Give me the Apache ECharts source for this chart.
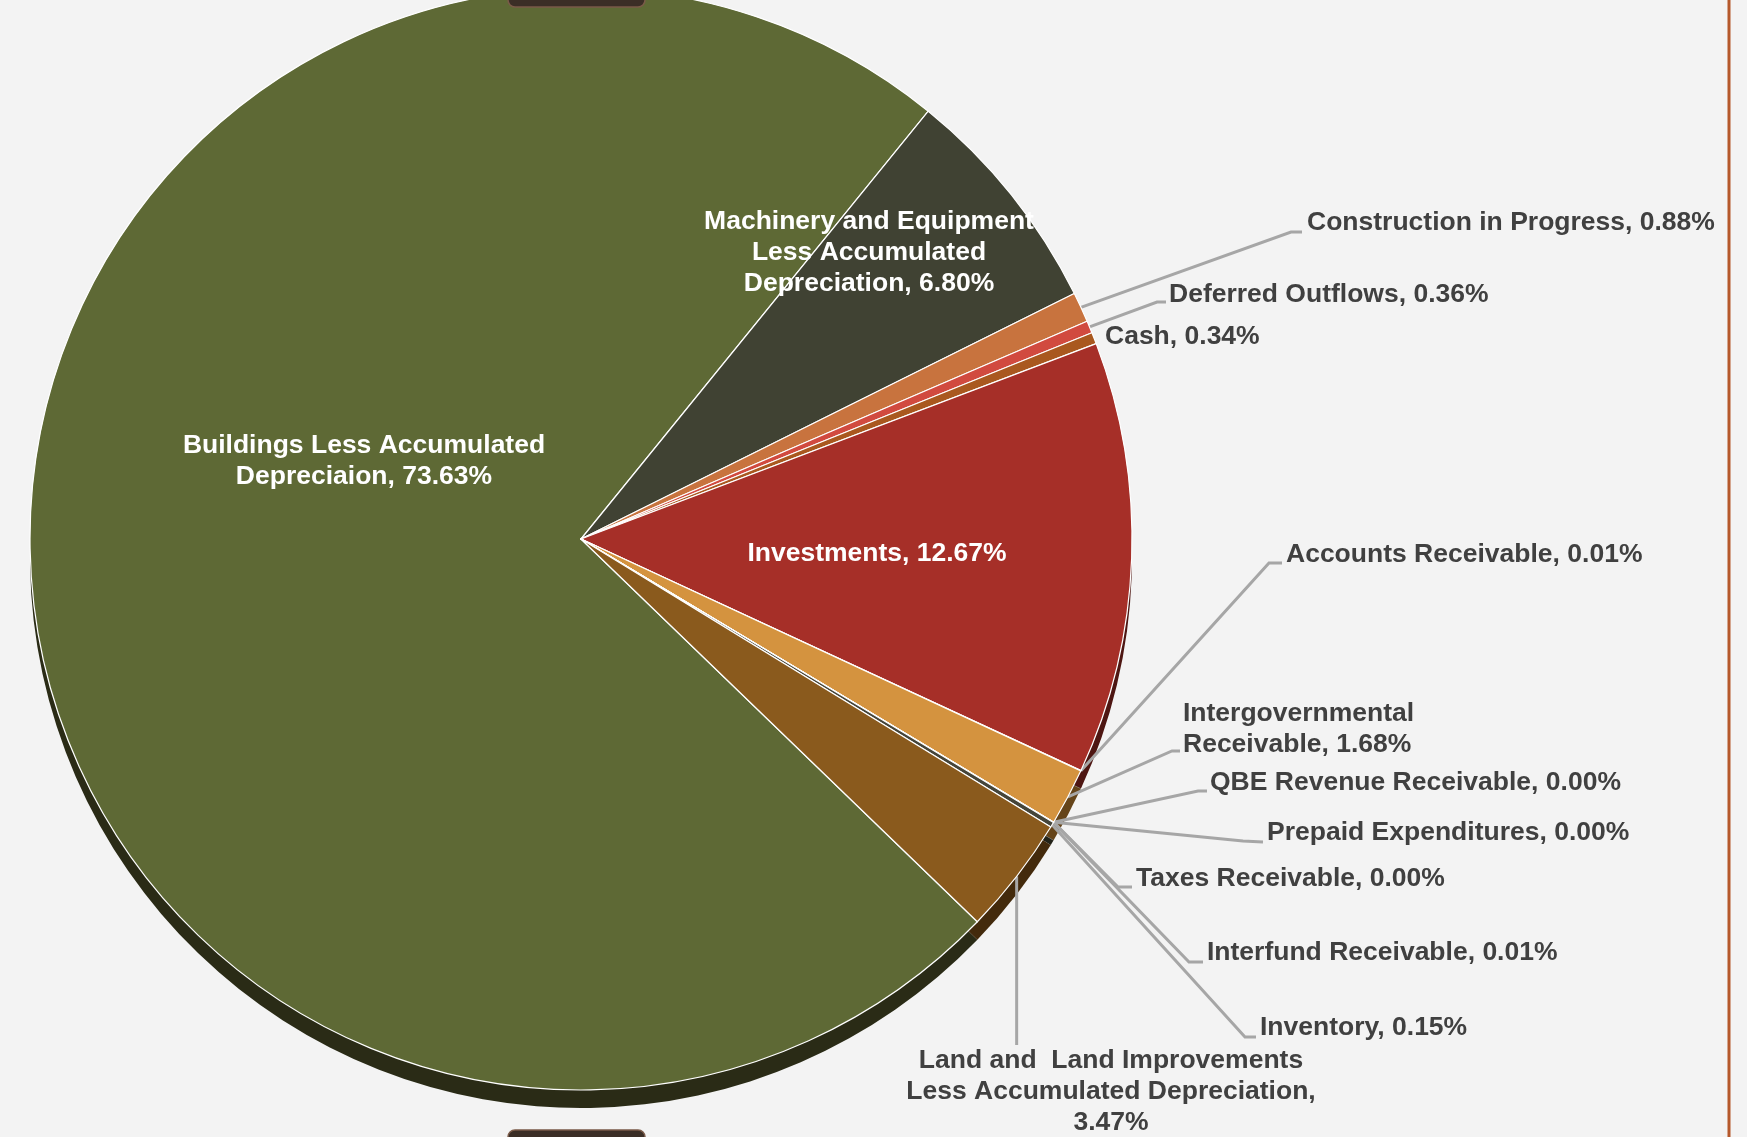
<!DOCTYPE html>
<html>
<head>
<meta charset="utf-8">
<title>Assets by Category</title>
<script src="https://cdn.jsdelivr.net/npm/echarts@6/dist/echarts.min.js"></script>
<style>
  html, body { margin: 0; padding: 0; background: #f3f3f3; }
  #chart { width: 1747px; height: 1137px; }
</style>
</head>
<body>
<div id="chart"></div>
<script>
// Asset categories, listed clockwise starting with the largest slice
const categories = [
  'Buildings Less Accumulated Depreciaion',
  'Machinery and Equipment Less Accumulated Depreciation',
  'Construction in Progress',
  'Deferred Outflows',
  'Cash',
  'Investments',
  'Accounts Receivable',
  'Intergovernmental Receivable',
  'QBE Revenue Receivable',
  'Prepaid Expenditures',
  'Taxes Receivable',
  'Interfund Receivable',
  'Inventory',
  'Land and  Land Improvements Less Accumulated Depreciation'
];

// Share of total, in percent
const shares = [73.63, 6.80, 0.88, 0.36, 0.34, 12.67, 0.01, 1.68, 0.00, 0.00, 0.00, 0.01, 0.15, 3.47];

// Label text ('#' is replaced with the formatted share)
const labelTemplates = [
  'Buildings Less Accumulated\nDepreciaion, #',
  'Machinery and Equipment\nLess Accumulated\nDepreciation, #',
  'Construction in Progress, #',
  'Deferred Outflows, #',
  'Cash, #',
  'Investments, #',
  'Accounts Receivable, #',
  'Intergovernmental\nReceivable, #',
  'QBE Revenue Receivable, #',
  'Prepaid Expenditures, #',
  'Taxes Receivable, #',
  'Interfund Receivable, #',
  'Inventory, #',
  'Land and  Land Improvements\nLess Accumulated Depreciation,\n#'
];

// Slice fills and the darker tone used for the pie's edge
const sliceColors = ['#5e6935', '#404233', '#c8733e', '#d14a3f', '#a9581f', '#a62f28', '#8a8a8a',
                     '#d4933f', '#777777', '#777777', '#777777', '#666666', '#45453a', '#8a5a1d'];
const edgeColors  = ['#2a2b16', '#222318', '#5e3519', '#62221c', '#4e2a0e', '#4e1612', '#333333',
                     '#654419', '#333333', '#333333', '#333333', '#333333', '#222218', '#432a0c'];

// Where each label sits, and the bend of its leader line
const labelSpots = [
  { x: 364,  y: 461, align: 'center', inside: true },
  { x: 869,  y: 253, align: 'center', inside: true },
  { x: 1307, y: 223, bend: [1291, 232], end: [1302, 232] },
  { x: 1169, y: 295, bend: [1157, 302], end: [1166, 302] },
  { x: 1105, y: 337, noLine: true },
  { x: 877,  y: 554, align: 'center', inside: true },
  { x: 1286, y: 555, bend: [1269, 563], end: [1282, 563] },
  { x: 1183, y: 729, bend: [1172, 751], end: [1180, 751] },
  { x: 1210, y: 783, bend: [1198, 791], end: [1207, 791] },
  { x: 1267, y: 833, bend: [1243, 841], end: [1263, 842] },
  { x: 1136, y: 879, bend: [1118, 887], end: [1132, 887] },
  { x: 1207, y: 953, bend: [1189, 962], end: [1203, 962] },
  { x: 1260, y: 1028, bend: [1245, 1037], end: [1256, 1037] },
  { x: 1111, y: 1092, align: 'center', drop: 1045 }
];

const FONT = '"Liberation Sans", Arial, Helvetica, sans-serif';
const PIE_CENTER = [581, 539];
const PIE_RADIUS = 551;
const EDGE_DEPTH = 18;

const topData = categories.map((name, i) => {
  const spot = labelSpots[i];
  return {
    name,
    value: shares[i],
    itemStyle: { color: sliceColors[i] },
    label: spot.inside
      ? { position: 'inside', color: '#ffffff' }
      : { position: 'outside', color: '#404040' },
    labelLine: { show: !spot.inside && !spot.noLine }
  };
});

const edgeData = categories.map((name, i) => ({
  name,
  value: shares[i],
  itemStyle: { color: edgeColors[i] }
}));

const chart = echarts.init(document.getElementById('chart'), null, { renderer: 'canvas' });

chart.setOption({
  backgroundColor: '#f3f3f3',
  animation: false,
  graphic: [
    // binder tabs peeking in at the top and bottom edges
    { type: 'rect', z: 100, shape: { x: 508, y: -12, width: 137, height: 19, r: 7 },
      style: { fill: '#3b2e26', stroke: '#7a5a48', lineWidth: 1.5 } },
    { type: 'rect', z: 100, shape: { x: 508, y: 1130, width: 137, height: 20, r: 7 },
      style: { fill: '#3b2e26', stroke: '#7a5a48', lineWidth: 1.5 } },
    // right margin rule
    { type: 'line', z: -10, shape: { x1: 1729, y1: 0, x2: 1729, y2: 1137 },
      style: { stroke: '#b5582b', lineWidth: 3 } }
  ],
  series: [
    {
      // pie edge, showing below the top face
      type: 'pie',
      silent: true,
      z: 1,
      center: [PIE_CENTER[0], PIE_CENTER[1] + EDGE_DEPTH],
      radius: PIE_RADIUS,
      startAngle: 316,
      clockwise: true,
      avoidLabelOverlap: false,
      label: { show: false },
      labelLine: { show: false },
      emphasis: { disabled: true },
      itemStyle: { borderWidth: 0 },
      data: edgeData
    },
    {
      type: 'pie',
      z: 2,
      center: PIE_CENTER,
      radius: PIE_RADIUS,
      startAngle: 316,
      clockwise: true,
      avoidLabelOverlap: false,
      minShowLabelAngle: 0,
      emphasis: { disabled: true },
      itemStyle: { borderColor: '#ffffff', borderWidth: 1.2 },
      label: {
        show: true,
        fontFamily: FONT,
        fontWeight: 'bold',
        fontSize: 26.5,
        lineHeight: 31,
        formatter: p => labelTemplates[p.dataIndex].replace('#', shares[p.dataIndex].toFixed(2) + '%')
      },
      labelLine: {
        lineStyle: { color: '#a6a6a6', width: 3 }
      },
      labelLayout: params => {
        const spot = labelSpots[params.dataIndex];
        const out = {
          x: spot.x,
          y: spot.y,
          align: spot.align || 'left',
          verticalAlign: 'middle'
        };
        const pts = params.labelLinePoints;
        if (pts && pts.length && !spot.inside && !spot.noLine) {
          const start = pts[0];
          if (spot.drop) {
            out.labelLinePoints = [start, [start[0], spot.drop], [start[0], spot.drop]];
          } else {
            out.labelLinePoints = [start, spot.bend, spot.end];
          }
        }
        return out;
      },
      data: topData
    }
  ]
});
</script>
</body>
</html>
